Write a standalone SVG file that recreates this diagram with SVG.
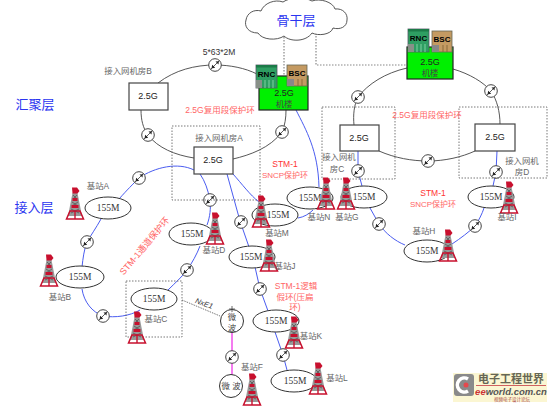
<svg xmlns="http://www.w3.org/2000/svg" xmlns:xlink="http://www.w3.org/1999/xlink" width="550" height="408" viewBox="0 0 550 408">
<style>
text{font-family:"Liberation Sans","Noto Sans CJK SC",sans-serif;text-anchor:middle}
.box{fill:#fff;stroke:#444;stroke-width:1.2}
.green{fill:#00f000;stroke:#222;stroke-width:1.2}
.ell{fill:#fff;stroke:#333;stroke-width:1}
.ring{fill:none;stroke:#444;stroke-width:.9}
.blue{fill:none;stroke:#4a5cf0;stroke-width:1}
.dash{fill:none;stroke:#555;stroke-width:.8;stroke-dasharray:1.5 1.5}
.d{fill:none;stroke:#888;stroke-width:1.2;stroke-dasharray:1.5 1.5}
.g{font-size:9px;fill:#222}
.m{font-family:"Liberation Serif","Noto Sans CJK SC",serif;font-size:9.5px;fill:#333}
.l{font-size:8.4px;fill:#666}
.r{font-size:8.5px;fill:#f66}
.s{font-size:8px;fill:#f66}
.h{font-size:13px;fill:#2a35f0}
.u{font-size:8.5px;fill:#333}
</style>
<defs>
<g id="tower">
<path d="M-2.5 6L2.5 6L7 29L-7 29Z" fill="#999"/>
<path d="M-2 8L2 12M2 8L-2 12M-3 15L3 19M3 15L-3 19M-4 22L4 26M4 22L-4 26" stroke="#555" stroke-width=".8" fill="none"/>
<path d="M-3 0.5h5l2.5 3.5l-2 2.5h-5z" fill="#c8102e"/>
<rect x="-2.5" y="11" width="5" height="3" fill="#c8102e"/>
<rect x="-3.5" y="18" width="7" height="3" fill="#c8102e"/>
<path d="M-5 24L5 24L8.5 32L-8.5 32Z" fill="none" stroke="#c8102e" stroke-width="1.5"/>
<path d="M0 24V32" stroke="#c8102e" stroke-width="1.4"/>
</g>
<g id="brk">
<circle r="6.3" fill="#fff" stroke="#444" stroke-width="1"/>
<path d="M-4.5 4.5L4.5 -4.5" stroke="#333" stroke-width=".8"/>
<path d="M.5 -3.5L3.8 -3.8L3.5 -.5ZM-2.8 -.2L.2 2.8L-3.5 3.5Z" fill="#222"/>
</g>
<g id="rnc">
<rect x="0" y="0" width="21" height="23" fill="#2e9e62" stroke="#556" stroke-width=".8"/>
<rect x="0" y="0" width="21" height="2.5" fill="#1c7a48"/>
<rect x="0" y="15" width="6" height="8" fill="#889088"/>
<path d="M9 15v8M13 15v8M17 15v8" stroke="#7fd0a0" stroke-width="1"/>
<text x="10.5" y="12" style="font-size:8px;font-weight:bold;fill:#000">RNC</text>
</g>
<g id="bsc">
<rect x="0" y="0" width="20" height="21" fill="#c49a62" stroke="#665" stroke-width=".8"/>
<rect x="0" y="14" width="7" height="7" fill="#888"/>
<path d="M11 14v7M15 14v7" stroke="#8a6a3a" stroke-width="1"/>
<text x="10" y="11" style="font-size:8px;font-weight:bold;fill:#000">BSC</text>
</g>
</defs>

<g id="connectors">
<path class="ring" d="M158 83C175 70 195 65 215 65C230 65 245 68 257 74"/>
<path class="ring" d="M141 110C141 120 143 128 148 135C158 148 175 155 194 158"/>
<path class="ring" d="M233 159C250 155 270 148 282 132C285 125 286 118 286 110"/>
<path class="ring" d="M407 68C385 73 368 84 358 97C354 105 353 115 354 125"/>
<path class="ring" d="M453 69C470 74 483 82 491 91C497 100 500 112 500 124"/>
<path class="ring" d="M379 151C395 158 412 161 428 161C445 161 462 157 475 151"/>
<path class="d" d="M284 37V76"/>
<path class="d" d="M316 33V65H407"/>
<path class="blue" d="M119 199C127 190 133 184 139 178C155 167 178 162 194 170"/>
<path class="blue" d="M101 219C96 228 91 235 87 242C84 250 83 258 82 267"/>
<path class="blue" d="M82 289C84 302 92 312 103 316C115 318 130 316 140 310"/>
<path class="blue" d="M168 290C175 283 182 277 187 270C192 263 197 254 200 246"/>
<path class="blue" d="M207 225C210 217 211 208 210 200C208 190 205 181 200 174"/>
<path class="blue" d="M227 174L240 221L249 247"/>
<path class="blue" d="M255 267L260 289L268 311"/>
<path class="blue" d="M275 332L283 355L287 370"/>
<path class="blue" d="M233 174C242 184 250 195 259 202"/>
<path class="blue" d="M296 110C306 130 318 150 319 187"/>
<path class="blue" d="M298 218C304 217 309 214 313 210"/>
<path class="blue" d="M358 151V171L362 186"/>
<path class="blue" d="M497 151L496 172L493 186"/>
<path class="blue" d="M370 208L379 224C385 233 395 241 405 245"/>
<path class="blue" d="M452 244C461 238 469 232 475 226C479 220 482 214 484 208"/>
<path d="M232 333V375" fill="none" stroke="#f47cf0" stroke-width="2"/>
<path d="M182 300L220 316" fill="none" stroke="#555" stroke-width=".8" stroke-dasharray="1.5 1"/>
<use href="#brk" x="215" y="65"/><use href="#brk" x="148" y="135"/><use href="#brk" x="282" y="132"/>
<use href="#brk" x="358" y="97"/><use href="#brk" x="491" y="91"/><use href="#brk" x="428" y="161"/>
<use href="#brk" x="139" y="178"/><use href="#brk" x="210" y="200"/><use href="#brk" x="87" y="242"/>
<use href="#brk" x="103" y="316"/><use href="#brk" x="187" y="270"/><use href="#brk" x="241" y="222"/>
<use href="#brk" x="260" y="289"/><use href="#brk" x="232" y="357"/><use href="#brk" x="283" y="355"/>
<use href="#brk" x="358" y="171"/><use href="#brk" x="496" y="172"/><use href="#brk" x="379" y="224"/>
<use href="#brk" x="475" y="226"/>
</g>

<g id="zones">
<rect class="dash" x="172" y="126" width="88" height="74"/>
<rect class="dash" x="322" y="107" width="73" height="72"/>
<rect class="dash" x="459" y="107" width="88" height="71"/>
<rect class="dash" x="126" y="281" width="56" height="56"/>
</g>

<g id="cloud">
<path d="M258 33C248 33 244 26 246 20C247 13 254 9 261 11C264 3 275 -1 283 2C290 -3 305 -3 312 1C320 -2 333 2 335 9C343 8 348 14 347 20C347 27 340 30 333 28C331 35 318 36 312 33C306 42 290 42 284 36C277 41 262 40 258 33Z" fill="#fff" stroke="#444" stroke-width=".9"/>
<text class="h" x="296" y="25">骨干层</text>
</g>

<g id="node-room-b"><rect class="box" x="129" y="83" width="39" height="27"/><text class="g" x="148" y="99">2.5G</text><text class="l" x="128" y="74">接入网机房B</text></g>
<g id="node-room-a"><rect class="box" x="194" y="147" width="39" height="27"/><text class="g" x="213" y="163">2.5G</text><text class="l" x="219" y="141">接入网机房A</text></g>
<g id="node-room-c"><rect class="box" x="340" y="125" width="39" height="26"/><text class="g" x="359" y="141">2.5G</text><text class="l" x="339" y="160">接入网机</text><text class="l" x="337" y="172">房C</text></g>
<g id="node-room-d"><rect class="box" x="475" y="124" width="40" height="27"/><text class="g" x="495" y="140">2.5G</text><text class="l" x="522" y="164">接入网机</text><text class="l" x="522" y="175">房D</text></g>
<g id="node-hub-left"><rect class="green" x="259" y="76" width="49" height="34"/><use href="#rnc" x="256" y="65"/><use href="#bsc" x="287" y="65"/><text class="g" x="284" y="96">2.5G</text><text class="l" x="284" y="107" style="fill:#444">机楼</text></g>
<g id="node-hub-right"><rect class="green" x="407" y="47" width="46" height="32"/><use href="#rnc" x="408" y="29"/><use href="#bsc" x="432" y="31"/><text class="g" x="430" y="65">2.5G</text><text class="l" x="430" y="76" style="fill:#444">机楼</text></g>

<g id="node-a"><ellipse class="ell" cx="108" cy="208" rx="23" ry="11"/><text class="m" x="108" y="211">155M</text><use href="#tower" x="75" y="187"/><text class="l" x="98" y="189">基站A</text></g>
<g id="node-b"><ellipse class="ell" cx="80" cy="277" rx="24" ry="11"/><text class="m" x="80" y="280">155M</text><use href="#tower" x="49" y="254"/><text class="l" x="60" y="300">基站B</text></g>
<g id="node-c"><ellipse class="ell" cx="154" cy="299" rx="23" ry="11"/><text class="m" x="154" y="302">155M</text><use href="#tower" x="137" y="311"/><text class="l" x="156" y="322">基站C</text></g>
<g id="node-d"><ellipse class="ell" cx="191" cy="234" rx="22" ry="11"/><text class="m" x="192" y="237">155M</text><use href="#tower" x="215" y="212"/><text class="l" x="214" y="253">基站D</text></g>
<g id="node-m"><ellipse class="ell" cx="275" cy="215" rx="23" ry="11"/><text class="m" x="278" y="218">155M</text><use href="#tower" x="261" y="195"/><text class="l" x="277" y="236">基站M</text></g>
<g id="node-j"><ellipse class="ell" cx="252" cy="257" rx="23" ry="11"/><text class="m" x="251" y="260">155M</text><use href="#tower" x="269" y="239"/><text class="l" x="285" y="269">基站J</text></g>
<g id="node-n"><ellipse class="ell" cx="310" cy="198" rx="23" ry="11"/><text class="m" x="310" y="201">155M</text><use href="#tower" x="326" y="177"/><text class="l" x="319" y="220">基站N</text></g>
<g id="node-g"><ellipse class="ell" cx="364" cy="197" rx="23" ry="11"/><text class="m" x="364" y="200">155M</text><use href="#tower" x="346" y="177"/><text class="l" x="347" y="220">基站G</text></g>
<g id="node-i"><ellipse class="ell" cx="491" cy="197" rx="23" ry="11"/><text class="m" x="491" y="200">155M</text><use href="#tower" x="509" y="181"/><text class="l" x="507" y="220">基站I</text></g>
<g id="node-h"><ellipse class="ell" cx="427" cy="251" rx="23" ry="11"/><text class="m" x="427" y="254">155M</text><use href="#tower" x="448" y="229"/><text class="l" x="424" y="234">基站H</text></g>
<g id="node-k"><ellipse class="ell" cx="276" cy="321" rx="23" ry="11"/><text class="m" x="276" y="324">155M</text><use href="#tower" x="294" y="316"/><text class="l" x="311" y="339">基站K</text></g>
<g id="node-l"><ellipse class="ell" cx="294" cy="381" rx="23" ry="11"/><text class="m" x="295" y="384">155M</text><use href="#tower" x="318" y="362"/><text class="l" x="337" y="381">基站L</text></g>
<g id="node-mw1"><circle class="ell" cx="232" cy="321" r="11.5"/><path d="M232 306V312M229 309H235" stroke="#444" stroke-width=".8"/><text class="l" x="232" y="320" style="fill:#444">微</text><text class="l" x="232" y="331" style="fill:#444">波</text></g>
<g id="node-mw2"><circle class="ell" cx="231" cy="386" r="11.5"/><text class="l" x="231" y="389" style="fill:#444">微 波</text><use href="#tower" x="252" y="373"/><text class="l" x="252" y="370">基站F</text></g>

<g id="labels">
<text class="h" x="35" y="109">汇聚层</text>
<text class="h" x="34" y="212">接入层</text>
<text class="u" x="219" y="55">5*63*2M</text>
<text class="r" x="220" y="113">2.5G复用段保护环</text>
<text class="r" x="427" y="118">2.5G复用段保护环</text>
<text x="285" y="167" style="font-size:8.5px;fill:#f33">STM-1</text>
<text class="s" x="285" y="178">SNCP保护环</text>
<text x="433" y="196" style="font-size:8.5px;fill:#f33">STM-1</text>
<text class="s" x="433" y="207">SNCP保护环</text>
<text class="r" x="296" y="289">STM-1逻辑</text>
<text class="r" x="295" y="300">假环(压扁</text>
<text class="r" x="295" y="310">环)</text>
<text class="r" transform="translate(147,248) rotate(-50)" style="font-size:9px">STM-1通道保护环</text>
<text x="204" y="306" transform="rotate(20 204 304)" style="font-size:7.5px;font-style:italic;fill:#333">NxE1</text>
</g>

<g id="logo">
<rect x="453" y="373" width="94" height="29" fill="#fbf6d2"/>
<rect x="454" y="374" width="20" height="22" rx="3" fill="#8a8a8a"/>
<path d="M468 379A7 7 0 1 0 468 391" fill="none" stroke="#fff" stroke-width="3.5"/>
<circle cx="466" cy="385" r="2.5" fill="#e5484d"/>
<text x="511" y="383" style="font-size:11px;font-weight:bold;fill:#665">电子工程世界</text>
<rect x="476" y="385" width="70" height="1" fill="#d06060"/>
<text x="511" y="395" style="font-size:9.5px;font-weight:bold;font-style:italic;fill:#555"><tspan fill="#c33">ee</tspan>world.com.cn</text>
<text x="512" y="401" style="font-size:4.5px;fill:#a44">视频电子设计论坛</text>
</g>
</svg>
